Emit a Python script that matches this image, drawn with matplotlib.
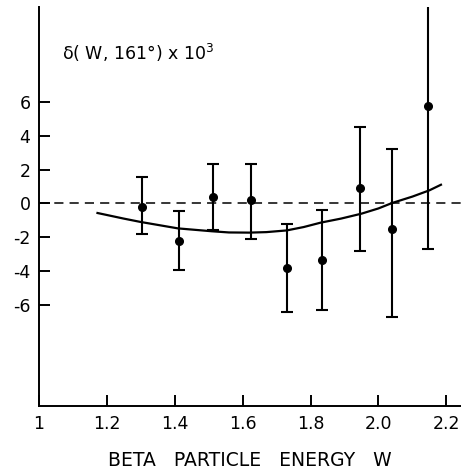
import matplotlib
matplotlib.use("Agg")
import matplotlib.pyplot as plt

# data points
energy = [1.305, 1.413, 1.513, 1.624, 1.73, 1.833, 1.946, 2.04, 2.147]
delta = [-0.2, -2.2, 0.37, 0.22, -3.8, -3.33, 0.9, -1.52, 5.74]
err_top = [1.55, -0.47, 2.35, 2.35, -1.24, -0.37, 4.5, 3.2, 13.0]
err_bottom = [-1.8, -3.96, -1.6, -2.1, -6.4, -6.33, -2.8, -6.7, -2.7]

# theory curve
curve_w = [1.173, 1.25, 1.30, 1.41, 1.51, 1.56, 1.62, 1.67, 1.73, 1.78,
           1.83, 1.89, 1.95, 2.0, 2.04, 2.1, 2.15, 2.184]
curve_d = [-0.57, -0.9, -1.1, -1.48, -1.65, -1.72, -1.73, -1.7, -1.6, -1.4,
           -1.14, -0.9, -0.61, -0.3, 0.02, 0.4, 0.77, 1.1]

x_ticks = [1.0, 1.2, 1.4, 1.6, 1.8, 2.0, 2.2]
x_labels = ["1", "1.2", "1.4", "1.6", "1.8", "2.0", "2.2"]
y_ticks = [-6, -4, -2, 0, 2, 4, 6]
y_labels = ["-6", "-4", "-2", "0", "2", "4", "6"]

fig = plt.figure(figsize=(4.61, 4.72), dpi=100)
ax = fig.add_axes([0.084, 0.139, 0.916, 0.846])

lower = [d - b for d, b in zip(delta, err_bottom)]
upper = [t - d for d, t in zip(delta, err_top)]
ax.errorbar(energy, delta, yerr=[lower, upper], fmt="o", color="black",
            markersize=5.5, elinewidth=1.5, capsize=4, capthick=1.5)
ax.plot(curve_w, curve_d, color="black", linewidth=1.6)
ax.axhline(0, color="black", linewidth=1.1, linestyle=(0, (6, 4)))

ax.set_xlim(1.0, 2.243)
ax.set_ylim(-12, 11.6)
ax.spines["top"].set_visible(False)
ax.spines["right"].set_visible(False)
ax.spines["left"].set_linewidth(1.4)
ax.spines["bottom"].set_linewidth(1.4)

ax.set_xticks(x_ticks)
ax.set_xticklabels(x_labels)
ax.set_yticks(y_ticks)
ax.set_yticklabels(y_labels)
ax.tick_params(direction="in", length=8, width=1.4, labelsize=12.5, pad=6)

ax.set_xlabel("BETA   PARTICLE   ENERGY   W", fontsize=13.5, labelpad=13)
fig.text(62 / 461, 1 - 60 / 472, "δ( W, 161°) x 10$^3$",
         fontsize=12.5, va="baseline")

fig.savefig("out.png", dpi=100)
